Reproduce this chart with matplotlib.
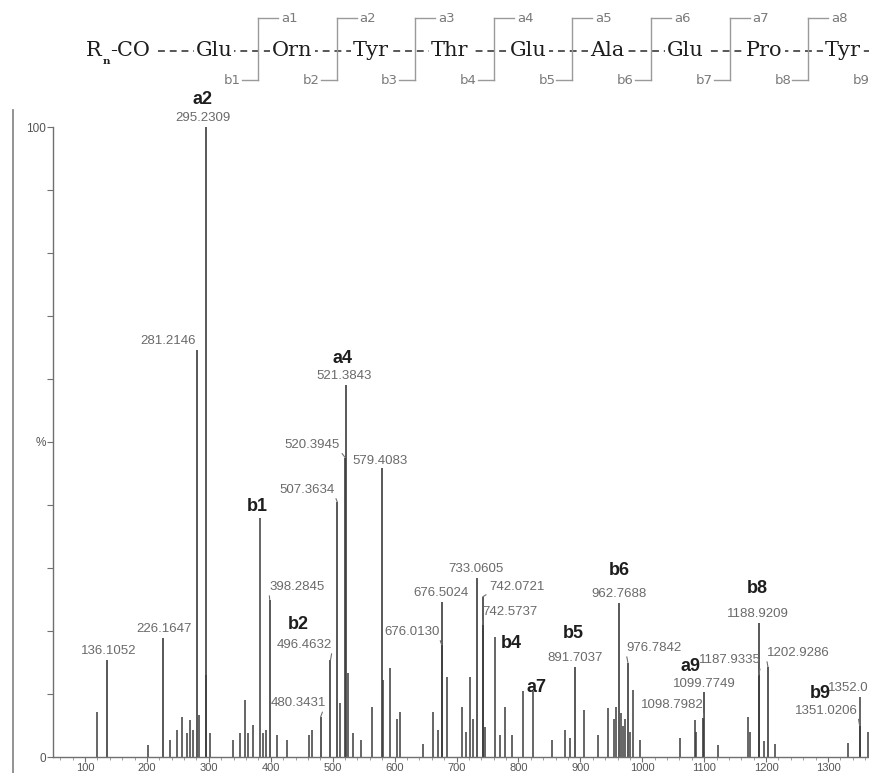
import matplotlib
matplotlib.use("Agg")
import matplotlib.pyplot as plt
from matplotlib.lines import Line2D
from matplotlib.ticker import MultipleLocator, FixedLocator

# ---------------- data ----------------
# labelled peaks (m/z as printed, relative intensity %)
labeled_mz = [136.1052, 226.1647, 281.2146, 295.2309, 398.2845, 480.3431, 496.4632,
              507.3634, 520.3945, 521.3843, 579.4083, 676.0130, 676.5024, 733.0605,
              742.0721, 742.5737, 891.7037, 962.7688, 976.7842, 1098.7982, 1099.7749,
              1187.9335, 1188.9209, 1202.9286, 1351.0206]
labeled_int = [15.4, 18.9, 64.6, 100.0, 25.0, 6.3, 15.4,
               40.5, 47.5, 59.0, 45.9, 17.8, 24.6, 28.4,
               25.4, 21.0, 14.3, 24.4, 15.0, 6.2, 10.3,
               13.0, 21.3, 14.3, 5.0]
# peak whose label is cut by the right edge of the picture
cut_mz = 1352.0
cut_int = 9.5
cut_text = "1352.0"

# unlabelled peaks
minor_mz = [118.9, 202, 237, 248, 256, 264, 270, 275, 284.6, 296.2, 302, 339.5, 350,
            358.4, 363.6, 371.8, 382.6, 388, 393, 409.6, 425.7, 461, 466, 511.8, 525.3,
            533, 546.5, 563, 580.8, 592.6, 603.4, 608.7, 646, 662.5, 670, 684, 708.3,
            716, 721.8, 727, 746, 762.7, 770, 778.3, 789, 807, 824, 853.7, 875, 883,
            906, 929, 945, 955, 958, 966, 969, 972, 980, 985.6, 996, 1061, 1085, 1087,
            1123, 1171, 1174, 1197, 1215, 1333, 1364.6]
minor_int = [7.2, 1.9, 2.7, 4.3, 6.4, 3.8, 5.9, 4.3, 6.7, 13.0, 3.8, 2.7, 3.8,
             9.0, 3.8, 5.1, 38.0, 3.8, 4.3, 3.5, 2.7, 3.5, 4.3, 8.5, 13.3,
             3.8, 2.7, 8.0, 12.2, 14.1, 6.0, 7.2, 2.0, 7.2, 4.3, 12.7, 8.0,
             4.0, 12.7, 6.0, 4.8, 19.0, 3.5, 8.0, 3.5, 10.4, 10.4, 2.7, 4.3, 3.0,
             7.4, 3.5, 7.7, 6.0, 8.0, 7.0, 5.0, 6.0, 4.0, 10.6, 2.7, 3.0, 5.9, 4.0,
             1.9, 6.3, 4.0, 2.5, 2.0, 2.2, 4.0]

# fragment ion annotations
ion_names = ["a2", "a4", "b1", "b2", "b4", "a7", "b5", "b6", "a9", "b8", "b9"]
ion_mz = [295.2309, 521.3843, 382.6, 496.4632, 762.7, 824, 891.7037, 962.7688,
          1099.7749, 1188.9209, 1352.0]

# peptide sequence header
residues = ["Glu", "Orn", "Tyr", "Thr", "Glu", "Ala", "Glu", "Pro", "Tyr"]
a_ions = ["a1", "a2", "a3", "a4", "a5", "a6", "a7", "a8"]
b_ions = ["b1", "b2", "b3", "b4", "b5", "b6", "b7", "b8", "b9"]

xtick_vals = [100, 200, 300, 400, 500, 600, 700, 800, 900, 1000, 1100, 1200, 1300]
ytick_vals = [0, 10, 20, 30, 40, 50, 60, 70, 80, 90, 100]
ytick_labels = ["0", "", "", "", "", "%", "", "", "", "", "100"]

# ---------------- layout ----------------
W, H = 870, 773
fig = plt.figure(figsize=(W / 100, H / 100), dpi=100)
fig.patch.set_facecolor("white")


def fx(px):
    return px / W


def fy(py):
    return 1 - py / H


ax = fig.add_axes([fx(53), 16 / H, (W - 53) / W, 630 / H])
ax.set_xlim(48.3, 1367.8)
ax.set_ylim(0, 100)
ax.set_facecolor("none")

peak_col = "#3c3c3c"
ax.vlines(minor_mz, 0, minor_int, color=peak_col, lw=1.1, zorder=2)
ax.vlines(labeled_mz, 0, labeled_int, color=peak_col, lw=1.2, zorder=2)
ax.vlines([cut_mz], 0, [cut_int], color=peak_col, lw=1.1, zorder=2)

for s in ["top", "right"]:
    ax.spines[s].set_visible(False)
for s in ["left", "bottom"]:
    ax.spines[s].set_color("#707070")
    ax.spines[s].set_linewidth(1.0)

ax.xaxis.set_major_locator(FixedLocator(xtick_vals))
ax.set_xticklabels([str(v) for v in xtick_vals])
ax.xaxis.set_minor_locator(MultipleLocator(20))
ax.yaxis.set_major_locator(FixedLocator(ytick_vals))
ax.set_yticklabels(ytick_labels)
ax.tick_params(axis="x", which="major", direction="out", length=3.5, width=0.8,
               color="#707070", labelsize=8, labelcolor="#555555", pad=0.5)
ax.tick_params(axis="x", which="minor", direction="out", length=2, width=0.6,
               color="#909090")
ax.tick_params(axis="y", which="major", direction="out", length=4, width=0.8,
               color="#707070", labelsize=8.5, labelcolor="#555555", pad=1)
for lab in ax.get_xticklabels() + ax.get_yticklabels():
    lab.set_family("Liberation Sans")

num_font = dict(family="Liberation Sans", fontsize=9.5, color="#6a6a6a")
ion_font = dict(family="Liberation Sans", fontsize=13, color="#1e1e1e", weight="bold")

# label placement (offsets in pixels from the peak top): dx, dy, ha, va, leader relpos
label_layout = {
    "136.1052": (1, 3, "center", "bottom", None),
    "226.1647": (1, 3, "center", "bottom", None),
    "281.2146": (-1, 3, "right", "bottom", None),
    "295.2309": (-3, 3, "center", "bottom", None),
    "398.2845": (27, 12.5, "center", "center", (0, 0)),
    "480.3431": (-22, 14, "center", "center", (0.95, 0)),
    "496.4632": (-26, 15, "center", "center", (1, 0)),
    "507.3634": (-30, 12, "center", "center", (1, 0)),
    "520.3945": (-33, 13, "center", "center", (1, 0)),
    "521.3843": (-2, 3, "center", "bottom", None),
    "579.4083": (-2, 1, "center", "bottom", None),
    "676.0130": (-30, 13, "center", "center", (1, 0)),
    "676.5024": (-1, 3, "center", "bottom", None),
    "733.0605": (-1, 3, "center", "bottom", None),
    "742.0721": (34, 10, "center", "center", (0, 0)),
    "742.5737": (27, 13, "center", "center", (0, 0)),
    "891.7037": (0, 3, "center", "bottom", None),
    "962.7688": (0, 3, "center", "bottom", None),
    "976.7842": (26, 14.5, "center", "center", (0, 0)),
    "1098.7982": (-31, 13, "center", "center", (1, 0)),
    "1099.7749": (0, 2, "center", "bottom", None),
    "1187.9335": (-29, 15, "center", "center", (1, 0)),
    "1188.9209": (-1, 3, "center", "bottom", None),
    "1202.9286": (30, 14, "center", "center", (0, 0)),
    "1351.0206": (-33, 15, "center", "center", (1, 0)),
}

for mz, it in zip(labeled_mz, labeled_int):
    txt = f"{mz:.4f}"
    dx, dy, ha, va, rel = label_layout[txt]
    if rel is None:
        ax.annotate(txt, xy=(mz, it), xytext=(dx, dy), textcoords="offset pixels",
                    ha=ha, va=va, annotation_clip=False, zorder=4, **num_font)
    else:
        ax.annotate(txt, xy=(mz, it), xytext=(dx, dy), textcoords="offset pixels",
                    ha=ha, va=va, annotation_clip=False, zorder=4,
                    arrowprops=dict(arrowstyle="-", color="#707070", lw=0.8,
                                    shrinkA=0, shrinkB=0, relpos=rel),
                    **num_font)

ax.annotate(cut_text, xy=(cut_mz, cut_int), xytext=(-32, 9), textcoords="offset pixels",
            ha="left", va="center", annotation_clip=False, zorder=4, **num_font)

ion_layout = {
    "a2": (-3, 27), "a4": (-3, 27), "b1": (-3, 11), "b2": (-32, 35),
    "b4": (16, -6), "a7": (3, 3.5), "b5": (-2, 33), "b6": (0, 33),
    "a9": (-14, 26), "b8": (-2, 34), "b9": (-40, 4),
}
all_mz = labeled_mz + minor_mz + [cut_mz]
all_int = labeled_int + minor_int + [cut_int]
for name, mz in zip(ion_names, ion_mz):
    it = all_int[min(range(len(all_mz)), key=lambda i: abs(all_mz[i] - mz))]
    dx, dy = ion_layout[name]
    ax.annotate(name, xy=(mz, it), xytext=(dx, dy), textcoords="offset pixels",
                ha="center", va="center", annotation_clip=False, zorder=5, **ion_font)

# outer frame line on the left
fig.add_artist(Line2D([fx(13.5), fx(13.5)], [fy(110), fy(773)], color="#8a8a8a", lw=1.3,
                      transform=fig.transFigure))

# ---------------- sequence header ----------------
seq_y = 50
bracket_x = [258 + 78.6 * i for i in range(9)]
res_font = dict(family="DejaVu Serif", fontsize=15, color="#1e1e1e")
small_font = dict(family="DejaVu Sans", fontsize=9.5, color="#7a7a7a")
gray = "#9a9a9a"

fig.add_artist(Line2D([fx(158), fx(870)], [fy(seq_y + 1), fy(seq_y + 1)], color="#2a2a2a",
                      lw=1.1, linestyle=(0, (4.5, 3.2)), transform=fig.transFigure,
                      zorder=1))
fig.text(fx(86), fy(seq_y), "R", ha="left", va="center", **res_font, zorder=3)
fig.text(fx(102.5), fy(seq_y + 11), "n", ha="left", va="center", family="DejaVu Serif",
         fontsize=7.5, weight="bold", color="#1e1e1e", zorder=3)
fig.text(fx(110), fy(seq_y), "-CO", ha="left", va="center", zorder=3,
         bbox=dict(facecolor="white", edgecolor="none", pad=0.5), **res_font)

for i, r in enumerate(residues):
    cx = bracket_x[i] - 44
    fig.text(fx(cx), fy(seq_y), r, ha="center", va="center", zorder=3,
             bbox=dict(facecolor="white", edgecolor="none", pad=1.5), **res_font)

for i, bx in enumerate(bracket_x):
    if i < len(a_ions):
        fig.add_artist(Line2D([fx(bx), fx(bx)], [fy(18), fy(80)], color=gray, lw=1.0,
                              transform=fig.transFigure, zorder=2))
        fig.add_artist(Line2D([fx(bx), fx(bx + 20)], [fy(18), fy(18)], color=gray, lw=1.0,
                              transform=fig.transFigure))
        fig.text(fx(bx + 23), fy(18), a_ions[i], ha="left", va="center", **small_font)
    fig.add_artist(Line2D([fx(bx - 16), fx(bx)], [fy(80), fy(80)], color=gray, lw=1.0,
                          transform=fig.transFigure))
    fig.text(fx(bx - 17), fy(80), b_ions[i], ha="right", va="center", **small_font)

fig.savefig("out.png", dpi=100, facecolor="white")
